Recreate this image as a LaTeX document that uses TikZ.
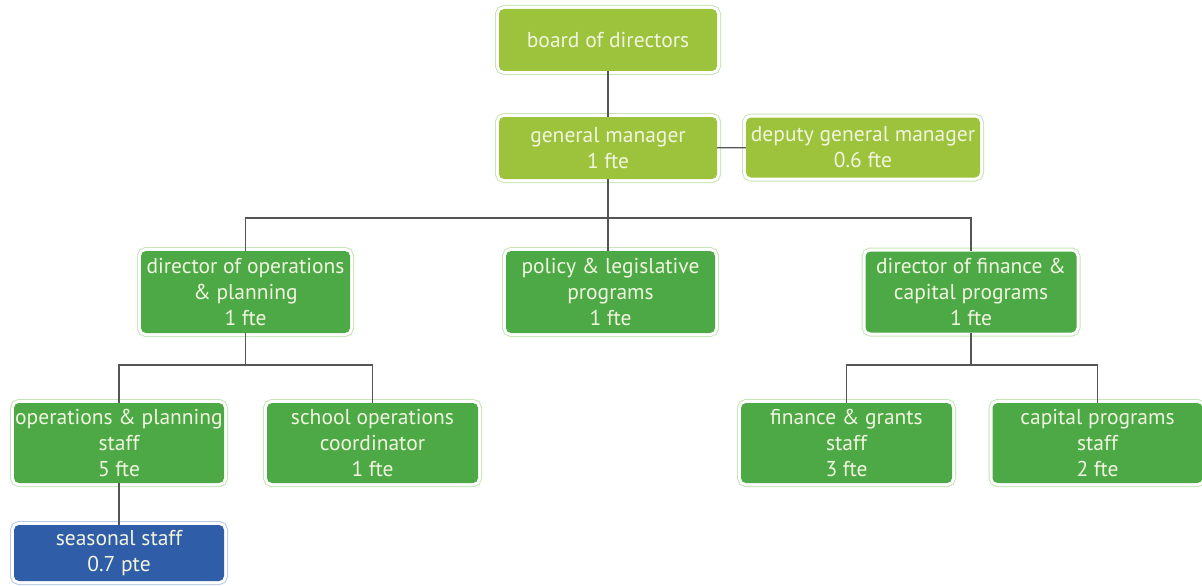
\documentclass[tikz,border=0pt]{standalone}
\usepackage{fontspec}
\setmainfont{PT Sans}
\definecolor{limegreen}{HTML}{9DC33C}
\definecolor{leafgreen}{HTML}{4CA946}
\definecolor{seablue}{HTML}{2F5DA8}
\definecolor{greenrim}{HTML}{C6E4B6}
\definecolor{bluerim}{HTML}{B9C8E6}
\definecolor{boxtext}{HTML}{F1F5DF}
\definecolor{linkgray}{HTML}{555555}
\tikzset{
  orgbox/.style={rectangle, rounded corners=5pt, align=center, text=boxtext,
    font=\fontsize{21.5}{26}\selectfont, inner sep=0pt,
    preaction={draw=#1, line width=8pt},
    preaction={draw=white, line width=6pt}},
  orgbox/.default=greenrim,
  link/.style={draw=linkgray, line width=1.2pt}
}
\begin{document}
\begin{tikzpicture}[x=1pt,y=-1pt]
\useasboundingbox (0,0) rectangle (1202,586);
\coordinate (topbus) at (608,218);
\coordinate (opsbus) at (245.5,365);
\coordinate (finbus) at (971,365);
% top row
\node[orgbox, fill=limegreen, minimum width=218pt, minimum height=62pt] (board) at (608,40) {board of directors};
\node[orgbox, fill=limegreen, minimum width=218pt, minimum height=62pt] (gm) at (608,148) {general manager\\1 fte};
\node[orgbox, fill=limegreen, minimum width=234pt, minimum height=60pt] (deputy) at (863,147.5) {deputy general manager\\0.6 fte};
% directors
\node[orgbox, fill=leafgreen, minimum width=209pt, minimum height=82pt] (dirops) at (245.5,292) {director of operations\\\& planning\\1 fte};
\node[orgbox, fill=leafgreen, minimum width=209pt, minimum height=82pt] (policy) at (610.5,292) {policy \& legislative\\programs\\1 fte};
\node[orgbox, fill=leafgreen, minimum width=211pt, minimum height=81pt] (dirfin) at (971,292) {director of finance \&\\capital programs\\1 fte};
% staff
\node[orgbox, fill=leafgreen, minimum width=210pt, minimum height=80pt] (opsstaff) at (119,443) {operations \& planning\\staff\\5 fte};
\node[orgbox, fill=leafgreen, minimum width=211pt, minimum height=80pt] (schoolops) at (372.5,443) {school operations\\coordinator\\1 fte};
\node[orgbox, fill=leafgreen, minimum width=211pt, minimum height=80pt] (fingrants) at (846.5,443) {finance \& grants\\staff\\3 fte};
\node[orgbox, fill=leafgreen, minimum width=210pt, minimum height=80pt] (capstaff) at (1097.5,443) {capital programs\\staff\\2 fte};
\node[orgbox=bluerim, fill=seablue, minimum width=210pt, minimum height=56pt] (seasonal) at (119,553) {seasonal staff\\0.7 pte};
% links
\draw[link] (board) -- (gm);
\draw[link] (gm) -- (deputy);
\draw[link] (gm) -- (topbus);
\draw[link] (dirops) |- (topbus) -| (dirfin);
\draw[link] (topbus) -- (topbus |- policy.north);
\draw[link] (dirops) -- (opsbus);
\draw[link] (opsstaff) |- (opsbus) -| (schoolops);
\draw[link] (dirfin) -- (finbus);
\draw[link] (fingrants) |- (finbus) -| (capstaff);
\draw[link] (opsstaff) -- (seasonal);
\end{tikzpicture}
\end{document}
